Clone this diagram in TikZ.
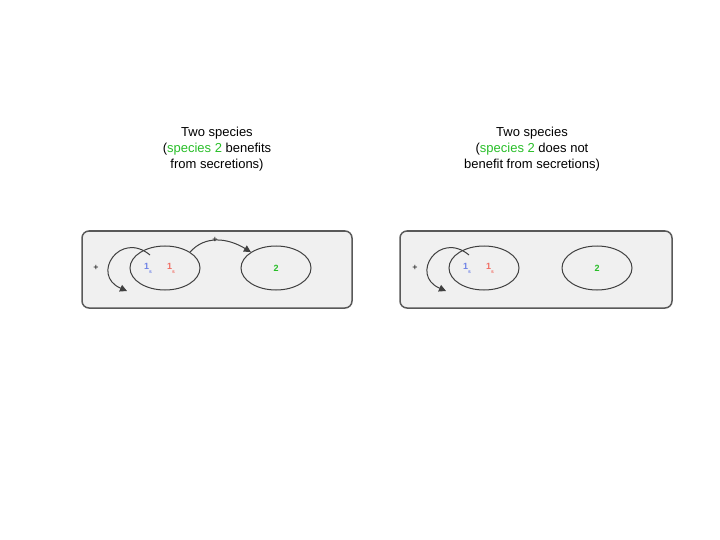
\documentclass[tikz,border=0pt]{standalone}
\usepackage{fontspec}
\setmainfont{Liberation Sans}
\usetikzlibrary{arrows.meta,shapes.geometric}
\definecolor{sgreen}{RGB}{40,190,40}
\definecolor{sblue}{RGB}{110,130,230}
\definecolor{sred}{RGB}{240,110,100}
\begin{document}
\begin{tikzpicture}[x=1pt,y=-1pt,
  panel/.style={draw=gray!70!black,line width=1.5pt,fill=gray!12,rounded corners=7pt},
  spec/.style={draw=black!75,line width=1pt,ellipse,minimum width=70pt,minimum height=44pt},
  lbl/.style={font=\fontsize{13}{16}\selectfont,align=center},
  link/.style={draw=black!75,line width=1pt},
  tip/.style={-{Triangle[length=7pt,width=7pt]}},
  sm/.style={font=\fontsize{9}{9}\selectfont\bfseries}]
\useasboundingbox (0,0) rectangle (720,540);
\node[lbl] (t1) at (217,149) {Two species\\(\textcolor{sgreen}{species 2} benefits\\ from secretions)};
\node[lbl] (t2) at (532,149) {Two species\\(\textcolor{sgreen}{species 2} does not\\benefit from secretions)};
% panel 1
\node[panel,minimum width=270pt,minimum height=77pt] (p1) at (217,269.5) {};
\node[spec] (a1) at (165,268) {};
\node[spec] (b1) at (276,268) {};
\node[sm,text=sblue] (s1) at (148,268) {1\raisebox{-4pt}{\fontsize{5}{5}\selectfont s}};
\node[sm,text=sred] (r1) at (171,268) {1\raisebox{-4pt}{\fontsize{5}{5}\selectfont s}};
\node[sm,text=sgreen] (g1) at (276,268) {2};
\coordinate (l1s) at (150,255);
\coordinate (l1e) at (127,291);
\draw[link,tip] (l1s) .. controls (120,230) and (90,275) .. (l1e);
\node[font=\small] (pl1) at (96,268) {+};
\draw[link,tip] (a1.north east) .. controls (205,235) and (228,238) .. (b1.north west);
\node[font=\small] (pa1) at (215,240) {+};
% panel 2
\node[panel,minimum width=272pt,minimum height=77pt] (p2) at (536,269.5) {};
\node[spec] (a2) at (484,268) {};
\node[spec] (b2) at (597,268) {};
\node[sm,text=sblue] (s2) at (467,268) {1\raisebox{-4pt}{\fontsize{5}{5}\selectfont s}};
\node[sm,text=sred] (r2) at (490,268) {1\raisebox{-4pt}{\fontsize{5}{5}\selectfont s}};
\node[sm,text=sgreen] (g2) at (597,268) {2};
\coordinate (l2s) at (469,255);
\coordinate (l2e) at (446,291);
\draw[link,tip] (l2s) .. controls (439,230) and (409,275) .. (l2e);
\node[font=\small] (pl2) at (415,268) {+};
\end{tikzpicture}
\end{document}
